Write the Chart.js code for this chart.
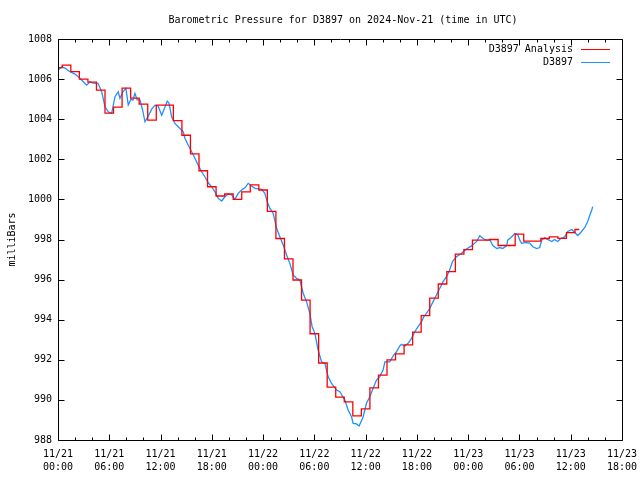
<!DOCTYPE html>
<html>
<head>
<meta charset="utf-8">
<script src="https://cdn.jsdelivr.net/npm/chart.js@4"></script>
<style>
  html, body { margin: 0; padding: 0; background: #fff; }
  #wrap { width: 640px; height: 480px; }
</style>
</head>
<body>
<div id="wrap"><canvas id="pressureChart" width="640" height="480"></canvas></div>
<script>
// hours since 2024-11-21 00:00 UTC
const analysisHours = [0, 1, 2, 3, 4, 5, 6, 7, 8, 9, 10, 11, 12, 13, 14, 15, 16, 17, 18, 19,
    20, 21, 22, 23, 24, 25, 26, 27, 28, 29, 30, 31, 32, 33, 34, 35, 36, 37, 38, 39,
    40, 41, 42, 43, 44, 45, 46, 47, 48, 49, 50, 51, 52, 53, 54, 55, 56, 57, 58, 59, 60, 61];
const analysisPressure = [1006.57, 1006.7, 1006.37, 1006.0, 1005.85, 1005.45, 1004.3, 1004.6, 1005.55, 1005.05,
    1004.75, 1003.95, 1004.7, 1004.7, 1003.93, 1003.2, 1002.27, 1001.43, 1000.63, 1000.17,
    1000.27, 1000.0, 1000.38, 1000.72, 1000.47, 999.4, 998.05, 997.03, 995.98, 994.98,
    993.3, 991.84, 990.64, 990.14, 989.9, 989.2, 989.55, 990.6, 991.24, 992.0,
    992.3, 992.74, 993.38, 994.2, 995.08, 995.78, 996.4, 997.27, 997.5, 997.97,
    997.97, 998.0, 997.7, 997.7, 998.27, 997.92, 997.92, 998.05, 998.13, 998.06,
    998.34, 998.5];

const obsHours = [0.03, 0.43, 0.82, 1.40, 1.99, 2.57, 2.96, 3.36, 3.74, 4.10, 4.68, 5.11, 5.50, 5.88, 6.28,
    6.67, 7.05, 7.25, 7.60, 7.95, 8.22, 8.54, 8.77, 9.00, 9.27, 9.59, 9.90, 10.18, 10.56, 10.96,
    11.35, 11.73, 12.13, 12.51, 12.78, 12.98, 13.30, 13.68, 14.27, 14.65, 14.85, 15.24, 15.64, 16.02,
    16.41, 16.81, 17.19, 17.58, 17.98, 18.36, 18.75, 19.15, 19.53, 19.92, 20.32, 20.70, 21.09, 21.49,
    21.87, 22.26, 22.65, 23.04, 23.43, 23.82, 24.21, 24.48, 24.80, 25.18, 25.58, 25.96, 26.35, 26.75,
    27.13, 27.52, 27.92, 28.30, 28.69, 29.09, 29.47, 29.74, 30.06, 30.44, 30.84, 31.23, 31.61, 32.01,
    32.60, 32.98, 33.57, 33.95, 34.35, 34.54, 34.94, 35.24, 35.71, 36.10, 36.49, 36.88, 37.27, 37.66,
    38.05, 38.25, 38.83, 39.22, 39.61, 40.00, 40.20, 40.58, 40.97, 41.37, 41.75, 42.14, 42.54, 42.81,
    43.12, 43.51, 43.89, 44.29, 44.68, 45.06, 45.46, 45.77, 46.16, 46.63, 47.22, 47.80, 48.39, 48.97,
    49.36, 49.74, 50.14, 50.53, 50.88, 51.35, 51.70, 52.05, 52.51, 52.63, 53.10, 53.45, 53.80, 54.04,
    54.27, 54.62, 55.20, 55.56, 56.02, 56.37, 56.61, 56.96, 57.30, 57.78, 58.10, 58.48, 58.83, 59.30,
    59.65, 60.12, 60.47, 60.82, 61.17, 61.64, 61.99, 62.22, 62.46, 62.57];
const obsPressure = [1006.45, 1006.6, 1006.55, 1006.37, 1006.25, 1006.04, 1005.87, 1005.7, 1005.87, 1005.8, 1005.79, 1005.37, 1004.62, 1004.37, 1004.29,
    1005.12, 1005.37, 1005.04, 1005.37, 1005.54, 1004.71, 1005.0, 1004.95, 1005.29, 1004.96, 1004.96, 1004.46, 1003.87, 1004.15, 1004.5,
    1004.7, 1004.65, 1004.2, 1004.6, 1004.9, 1004.8, 1004.12, 1003.79, 1003.54, 1003.38, 1003.05, 1002.71, 1002.38, 1002.05,
    1001.71, 1001.38, 1001.13, 1000.83, 1000.63, 1000.38, 1000.05, 999.92, 1000.13, 1000.27, 1000.22, 1000.0, 1000.3, 1000.47,
    1000.58, 1000.8, 1000.67, 1000.55, 1000.52, 1000.5, 1000.3, 999.88, 999.55, 999.3, 998.56, 998.14, 997.73, 997.23,
    996.81, 996.23, 996.06, 995.98, 995.32, 994.9, 994.32, 993.65, 993.32, 992.49, 991.9, 991.82, 991.16, 990.82,
    990.49, 990.41, 989.99, 989.5, 989.16, 988.83, 988.8, 988.7, 989.16, 989.83, 990.16, 990.58, 990.99, 991.16,
    991.5, 991.9, 991.9, 992.2, 992.4, 992.69, 992.77, 992.69, 992.82, 993.07, 993.4, 993.65, 993.9, 994.15,
    994.32, 994.57, 994.9, 995.23, 995.57, 995.9, 996.15, 996.4, 996.9, 997.14, 997.31, 997.53, 997.68, 997.89,
    998.19, 998.05, 997.97, 998.0, 997.7, 997.55, 997.6, 997.55, 997.7, 997.97, 998.14, 998.3, 998.25, 997.97,
    997.8, 997.85, 997.82, 997.64, 997.55, 997.6, 997.97, 998.1, 998.0, 997.9, 998.0, 997.9, 998.05, 998.13,
    998.4, 998.5, 998.35, 998.2, 998.35, 998.6, 998.9, 999.2, 999.47, 999.64];

const xMin = 0, xMax = 66, xStep = 6, xMinorStep = 2;
const yMin = 988, yMax = 1008, yStep = 2;
const days = ['11/21', '11/22', '11/23', '11/24'];

const titleText = 'Barometric Pressure for D3897 on 2024-Nov-21 (time in UTC)';
const monoFont = '"DejaVu Sans Mono", "Liberation Mono", monospace';

function timeLabel(v) {
    const d = Math.floor(v / 24);
    const h = v % 24;
    return [days[d], (h < 10 ? '0' : '') + h + ':00'];
}

// gnuplot style frame: border, inward ticks, title and legend
const gnuplotFrame = {
    id: 'gnuplotFrame',
    afterDraw(chart) {
        const ctx = chart.ctx;
        const area = chart.chartArea;
        const xs = chart.scales.x;
        const ys = chart.scales.y;
        const L = Math.round(area.left) + 0.5, R = Math.round(area.right) + 0.5;
        const T = Math.round(area.top) + 0.5, B = Math.round(area.bottom) + 0.5;
        ctx.save();
        ctx.strokeStyle = '#000';
        ctx.lineWidth = 1;
        ctx.beginPath();
        ctx.rect(L, T, R - L, B - T);
        for (let v = xMin; v <= xMax; v += xMinorStep) {
            const px = Math.round(xs.getPixelForValue(v)) + 0.5;
            const len = v % xStep === 0 ? 6 : 3;
            ctx.moveTo(px, B); ctx.lineTo(px, B - len);
            ctx.moveTo(px, T); ctx.lineTo(px, T + len);
        }
        for (let v = yMin; v <= yMax; v += yStep) {
            const py = Math.round(ys.getPixelForValue(v)) + 0.5;
            ctx.moveTo(L, py); ctx.lineTo(L + 6, py);
            ctx.moveTo(R, py); ctx.lineTo(R - 6, py);
        }
        ctx.stroke();

        ctx.fillStyle = '#000';
        ctx.font = '10px ' + monoFont;
        ctx.textAlign = 'center';
        ctx.textBaseline = 'middle';
        ctx.fillText(titleText, 343, 20);

        // legend, top right inside the plot
        ctx.textAlign = 'right';
        chart.data.datasets.forEach((ds, i) => {
            const y = 49 + i * 13;
            ctx.fillStyle = '#000';
            ctx.fillText(ds.label, 573, y);
            ctx.strokeStyle = ds.borderColor;
            ctx.beginPath();
            ctx.moveTo(581, y + 0.5);
            ctx.lineTo(610, y + 0.5);
            ctx.stroke();
        });
        ctx.restore();
    }
};

const ctx = document.getElementById('pressureChart').getContext('2d');
const pressureChart = new Chart(ctx, {
    type: 'line',
    data: {
        datasets: [{
            label: 'D3897 Analysis',
            data: analysisHours.map((h, i) => ({ x: h, y: analysisPressure[i] })),
            borderColor: '#ff0000',
            borderWidth: 1.3,
            pointRadius: 0,
            stepped: 'middle',
            fill: false
        }, {
            label: 'D3897',
            data: obsHours.map((h, i) => ({ x: h, y: obsPressure[i] })),
            borderColor: '#1e90ff',
            borderWidth: 1.3,
            pointRadius: 0,
            tension: 0,
            fill: false
        }]
    },
    options: {
        responsive: false,
        animation: false,
        devicePixelRatio: 1,
        layout: { padding: { top: 39, right: 18, left: 0, bottom: 0 } },
        plugins: {
            legend: { display: false },
            title: { display: false },
            tooltip: { enabled: false }
        },
        scales: {
            x: {
                type: 'linear',
                min: xMin,
                max: xMax,
                border: { display: false },
                grid: { display: false, drawTicks: false },
                afterFit: s => { s.height = 40; s.paddingLeft = 0; s.paddingRight = 0; },
                ticks: {
                    stepSize: xStep,
                    padding: 8,
                    maxRotation: 0,
                    autoSkip: false,
                    color: '#000',
                    font: { family: monoFont, size: 10, lineHeight: 1.3 },
                    callback: v => timeLabel(v)
                }
            },
            y: {
                min: yMin,
                max: yMax,
                border: { display: false },
                grid: { display: false, drawTicks: false },
                afterFit: s => { s.width = 58; s.paddingTop = 0; s.paddingBottom = 0; },
                title: {
                    display: true,
                    text: 'milliBars',
                    color: '#000',
                    font: { family: monoFont, size: 10 },
                    padding: { top: 6, bottom: 0 }
                },
                ticks: {
                    stepSize: yStep,
                    padding: 6,
                    color: '#000',
                    font: { family: monoFont, size: 10 },
                    callback: v => String(v)
                }
            }
        }
    },
    plugins: [gnuplotFrame]
});
</script>
</body>
</html>
